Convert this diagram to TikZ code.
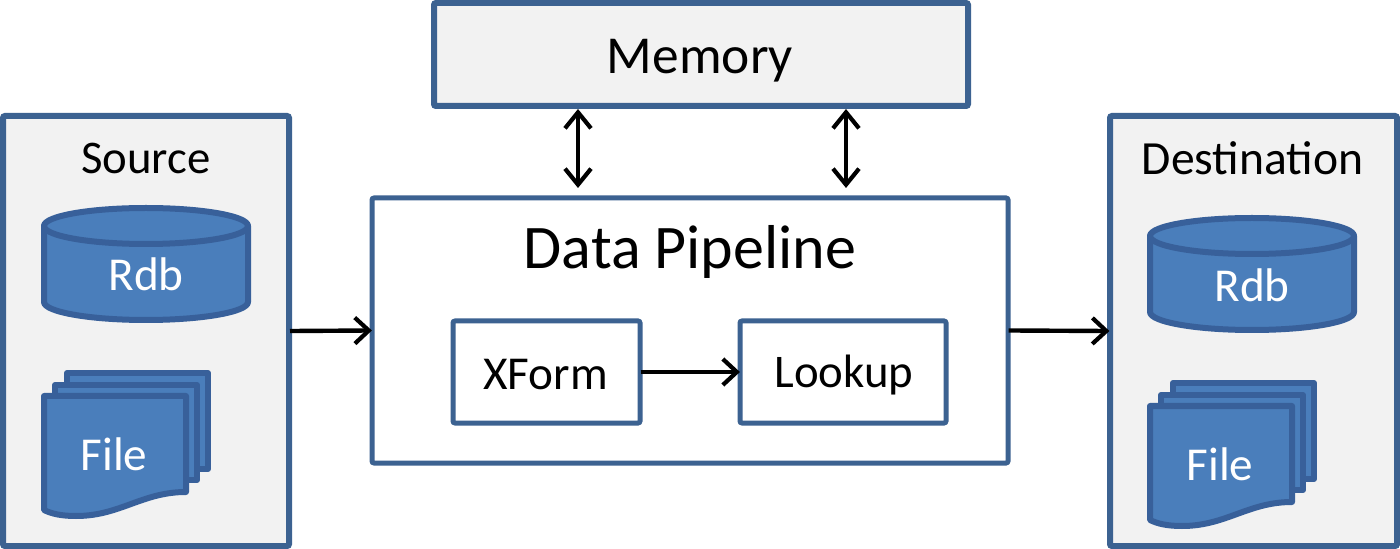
\documentclass[tikz,border=0pt]{standalone}
\usepackage{fontspec}
\setmainfont{Carlito}
\usetikzlibrary{arrows.meta}
\definecolor{edgeblue}{HTML}{3C6291}
\definecolor{shapeblue}{HTML}{4A7EBB}
\definecolor{shapeedge}{HTML}{38609A}
\definecolor{panel}{HTML}{F2F2F2}
\tikzset{
  panelbox/.style={draw=edgeblue,line width=3pt,fill=panel,rounded corners=1pt,inner sep=0pt},
  pipebox/.style={draw=edgeblue,line width=2.5pt,fill=white,rounded corners=1pt,inner sep=0pt},
  shapeline/.style={draw=shapeedge,line width=3pt,fill=shapeblue,line join=round},
  flow/.style={black,line width=2.2pt,shorten >=-1.2pt,shorten <=-1pt,yshift=-0.4pt,-{Straight Barb[length=7pt,width=13pt,line width=2.1pt]}},
  both/.style={black,line width=2.2pt,{Straight Barb[length=8pt,width=13pt,line width=2.1pt]}-{Straight Barb[length=8pt,width=13pt,line width=2.1pt]}},
  lightlabel/.style={text=white,font=\fontsize{23.6}{26}\selectfont,inner sep=0pt},
  darklabel/.style={text=black,inner sep=0pt}
}
\newcommand{\rdbshape}{%
  \path[shapeline] (44,226) -- (44,302) arc[start angle=180,end angle=0,x radius=102,y radius=18] -- (248,226) -- cycle;
  \path[shapeline] (146,226) ellipse[x radius=102,y radius=18];
}
\newcommand{\filesheet}{%
  \path[shapeline] (44,396) -- (186,396) -- (186,492) .. controls (142,492) and (120,516) .. (76,516) .. controls (62,516) and (52,514) .. (44,510) -- cycle;
}
\newcommand{\filestack}{%
  \path[shapeline] (67,373) -- (208,373) -- (208,469) -- (67,469) -- cycle;
  \path[shapeline] (55,385) -- (197,385) -- (197,480) -- (55,480) -- cycle;
  \filesheet
}
\begin{document}
\begin{tikzpicture}[x=0.5pt,y=-0.5pt]
\useasboundingbox (0,0) rectangle (1400,549);
\fill[white] (0,0) rectangle (1400,549);
% main boxes
\node[panelbox,minimum width=143pt,minimum height=215pt] (src) at (146,331) {};
\node[panelbox,minimum width=143.5pt,minimum height=215pt] (dst) at (1253.5,331) {};
\node[panelbox,minimum width=267pt,minimum height=51.5pt] (mem) at (701,54.5) {};
\node[pipebox,minimum width=318pt,minimum height=132.5pt] (pipe) at (690,330.5) {};
\node[pipebox,minimum width=93.5pt,minimum height=51pt] (xform) at (546.5,372) {};
\node[pipebox,minimum width=103pt,minimum height=51pt] (lookup) at (843,372) {};
% titles
\node[darklabel,font=\fontsize{26.7}{30}\selectfont] (memtitle) at (700,61) {Memory};
\node[darklabel,font=\fontsize{23.6}{26}\selectfont] (xformtitle) at (545.5,375) {XForm};
\node[darklabel,font=\fontsize{23.4}{26}\selectfont] (lookuptitle) at (844,375) {Lookup};
\node[darklabel,font=\fontsize{23.4}{26}\selectfont] (srctitle) at (146,158) {Source};
\node[darklabel,font=\fontsize{23.8}{26}\selectfont] (dsttitle) at (1252.5,158) {Destination};
\node[darklabel,font=\fontsize{31}{34}\selectfont] (pipetitle) at (690,252) {Data Pipeline};
% source shapes
\rdbshape
\filestack
\node[lightlabel] (srcrdb) at (146,274) {Rdb};
\node[lightlabel] (srcfile) at (114,454) {File};
% destination shapes
\begin{scope}[shift={(1106,10)}]
\rdbshape
\filestack
\end{scope}
\node[lightlabel] (dstrdb) at (1252,285) {Rdb};
\node[lightlabel] (dstfile) at (1220,464) {File};
% connectors
\coordinate (memlow1) at (578,188);
\coordinate (memlow2) at (846,188);
\draw[flow] (src.east) -- (pipe.west);
\draw[flow] (pipe.east) -- (dst.west);
\draw[flow] (xform.east) -- (lookup.west);
\draw[both] (mem.south -| memlow1) -- (memlow1);
\draw[both] (mem.south -| memlow2) -- (memlow2);
\end{tikzpicture}
\end{document}
